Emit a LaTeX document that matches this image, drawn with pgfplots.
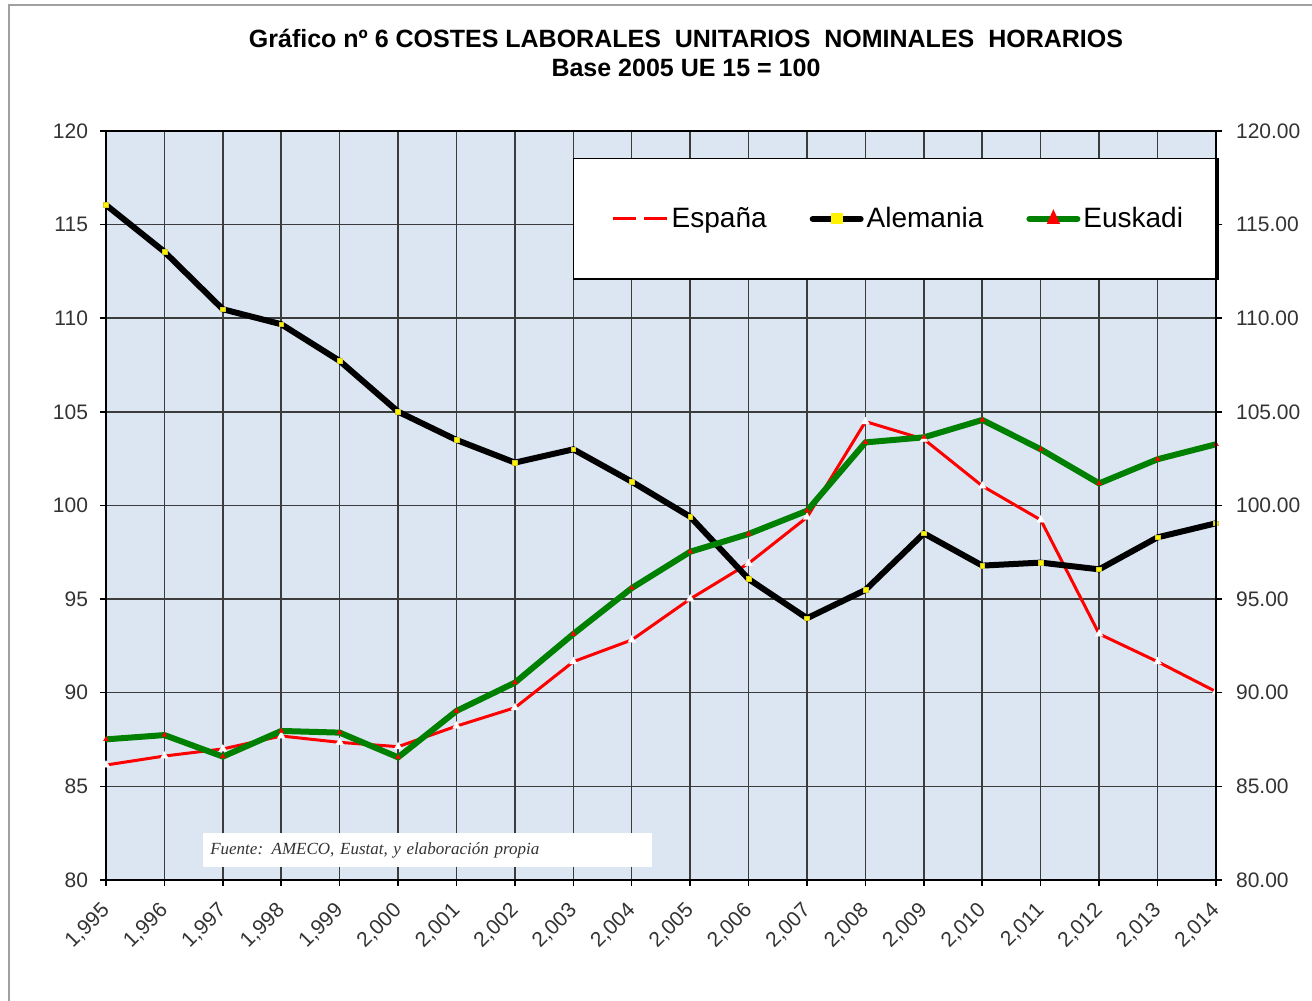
\documentclass[border=0pt]{standalone}
\usepackage{fontspec}
\setmainfont{Liberation Sans}
\newfontfamily\serifit{Liberation Serif}
\usepackage{pgfplots}
\usepackage{pgfplotstable}
\pgfplotsset{compat=1.18}
\definecolor{bgblue}{HTML}{DCE6F2}
\definecolor{gridc}{HTML}{3C3C3C}
\definecolor{eusk}{HTML}{008000}
\definecolor{txt}{HTML}{333333}
\definecolor{frame}{HTML}{A0A0A0}

\pgfplotstableread{
year es al eu
1995 86.14 116.05 87.51
1996 86.62 113.55 87.74
1997 87.00 110.48 86.59
1998 87.69 109.68 87.96
1999 87.35 107.72 87.87
2000 87.12 105.01 86.55
2001 88.22 103.50 89.03
2002 89.20 102.29 90.54
2003 91.66 103.00 93.14
2004 92.82 101.27 95.59
2005 95.01 99.40 97.53
2006 96.91 96.07 98.48
2007 99.37 93.98 99.72
2008 104.48 95.49 103.37
2009 103.54 98.51 103.64
2010 101.04 96.79 104.57
2011 99.23 96.95 103.00
2012 93.14 96.59 101.18
2013 91.66 98.30 102.47
2014 90.06 99.05 103.27
}\datatable

\begin{document}
\begin{tikzpicture}
\useasboundingbox (0pt,0pt) rectangle (656pt,500.5pt);
\draw[frame, line width=1pt] (4.5pt,0pt) -- (4.5pt,498pt) -- (656pt,498pt);
\node[font=\bfseries\fontsize{12.5}{15}\selectfont] at (343pt,481.5pt) {Gráfico nº 6 COSTES LABORALES\ \ UNITARIOS\ \ NOMINALES\ \ HORARIOS};
\node[font=\bfseries\fontsize{12.5}{15}\selectfont] at (343pt,466.5pt) {Base 2005 UE 15 = 100};

\begin{axis}[
  at={(53pt,60.5pt)}, anchor=south west,
  scale only axis, width=555pt, height=374.5pt,
  xmin=1995, xmax=2014, ymin=80, ymax=120,
  xtick={1995,...,2014},
  xticklabels={{1,995},{1,996},{1,997},{1,998},{1,999},{2,000},{2,001},{2,002},{2,003},{2,004},{2,005},{2,006},{2,007},{2,008},{2,009},{2,010},{2,011},{2,012},{2,013},{2,014}},
  ytick={80,85,...,120},
  yticklabels={80,85,90,95,100,105,110,115,120},
  /pgf/number format/assume math mode=true,
  tick align=outside, xtick pos=bottom, ytick pos=left,
  major tick length=3pt,
  tick style={black, line width=0.75pt},
  grid=major,
  major grid style={gridc, line width=0.75pt},
  axis line style={black, line width=0.75pt},
  axis background/.style={fill=bgblue},
  ticklabel style={font=\fontsize{10.5}{12}\selectfont, text=txt},
  yticklabel style={xshift=-2.5pt},
  xticklabel style={rotate=45, anchor=east, yshift=-7.6pt, xshift=-4pt},
  legend columns=3,
  legend style={at={(0.4207,0.964)}, anchor=north west, draw=black, fill=white,
    line width=0.75pt, inner xsep=16pt, inner ysep=22.25pt,
    font=\fontsize{14}{16}\selectfont,
    nodes={inner xsep=1.5pt},
    /tikz/every even column/.append style={column sep=20pt},
    cells={anchor=west}},
  clip=false,
]
\addplot[red, line width=1.5pt, mark=triangle*, mark size=2.2pt,
  mark options={fill=white, draw=white, line width=0.2pt},
  legend image code/.code={\path (-3pt,0pt); \draw[red, line width=1.5pt, dash pattern=on 11.5pt off 4pt] (0pt,0pt) -- (27pt,0pt);}]
  table[x=year, y=es] {\datatable};
\addlegendentry{España\hspace{4.5pt}}
\addplot[black, line width=3pt, mark=square*, mark size=1.2pt,
  mark options={fill=yellow, draw=yellow!80!black, line width=0.3pt},
  legend image code/.code={\draw[black, line width=3pt, line cap=round] (1.5pt,0pt) -- (25.5pt,0pt); \fill[yellow] (12pt,-1.3pt) rectangle (15pt,1.3pt);}]
  table[x=year, y=al] {\datatable};
\addlegendentry{Alemania}
\addplot[eusk, line width=3pt, mark=triangle*, mark size=1.4pt,
  mark options={fill=red, draw=red, line width=0.2pt},
  legend image code/.code={\draw[eusk, line width=3pt, line cap=round] (1.5pt,0pt) -- (25.5pt,0pt); \fill[red] (12.5pt,-1pt) -- (14.5pt,-1pt) -- (13.5pt,1.2pt) -- cycle;}]
  table[x=year, y=eu] {\datatable};
\addlegendentry{Euskadi}
\node[fill=white, anchor=west, minimum width=224.5pt, minimum height=17pt, inner xsep=3.5pt, text width=217pt, align=left, font=\serifit\itshape\fontsize{8.5}{10}\selectfont, text=txt] at (axis cs:1996.65,81.6) {Fuente: AMECO, Eustat, y elaboración propia};
\end{axis}

\begin{axis}[
  at={(53pt,60.5pt)}, anchor=south west,
  scale only axis, width=555pt, height=374.5pt,
  xmin=1995, xmax=2014, ymin=80, ymax=120,
  axis x line=none, axis y line*=right,
  ytick={80,85,...,120},
  yticklabels={80.00,85.00,90.00,95.00,100.00,105.00,110.00,115.00,120.00},
  tick align=outside, major tick length=3pt,
  tick style={black, line width=0.75pt},
  axis line style={black, line width=0.75pt},
  ticklabel style={font=\fontsize{10.5}{12}\selectfont, text=txt},
  yticklabel style={xshift=3.5pt},
]
\end{axis}
\end{tikzpicture}
\end{document}
